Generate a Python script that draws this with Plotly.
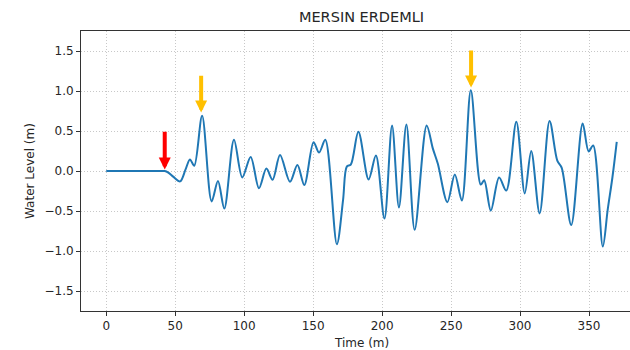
import plotly.graph_objects as go

# Time (minutes) and water level (m)
time_min = [0, 20, 40, 42.4, 45, 48.5, 53.6, 57.5, 60.7, 63.8, 69.5, 76.4, 81, 85.6,
            92.6, 98.6, 104.7, 110.7, 116.1, 120.6, 126, 133.2, 138.6, 143.6, 150.3,
            154.3, 158.8, 167.2, 171.7, 174.4, 177.3, 182.8, 190.2, 195.5, 201.7,
            207.2, 212.2, 217.6, 223.6, 232.3, 236.8, 240.4, 247.3, 252.7, 257.8,
            264.3, 271.5, 274, 278.8, 284.8, 290, 297.3, 303.4, 308.1, 314.2, 321.4,
            327, 330.2, 337.1, 345.4, 349.7, 353, 360, 363.5, 367, 370.1]
water_level = [0, 0, 0, 0, -0.02, -0.07, -0.13, 0.02, 0.145, 0.065, 0.69, -0.38, -0.125,
               -0.47, 0.39, -0.08, 0.175, -0.215, 0.03, -0.11, 0.2, -0.135, 0.075, -0.175,
               0.36, 0.23, 0.39, -0.915, -0.36, 0.055, 0.08, 0.49, -0.105, 0.195, -0.595,
               0.57, -0.455, 0.58, -0.735, 0.57, 0.28, 0.09, -0.39, -0.045, -0.37,
               1.01, -0.17, -0.115, -0.495, -0.08, -0.245, 0.615, -0.28, 0.25, -0.53, 0.625,
               0.13, 0.04, -0.675, 0.595, 0.245, 0.32, -0.945, -0.49, -0.075, 0.365]

# Arrow markers: (time, tail level, tip level, colour)
arrows = [
    (42.4, 0.51, 0.02, "#ff0000"),
    (68.8, 1.21, 0.73, "#ffc000"),
    (264.5, 1.525, 1.045, "#ffc000"),
]

x_ticks = [0, 50, 100, 150, 200, 250, 300, 350]
y_ticks = [-1.5, -1.0, -0.5, 0.0, 0.5, 1.0, 1.5]
y_tick_text = ["\u22121.5", "\u22121.0", "\u22120.5", "0.0", "0.5", "1.0", "1.5"]

FONT = "DejaVu Sans"
TXT = "#262626"

fig = go.Figure()
fig.add_trace(go.Scatter(
    x=time_min, y=water_level, mode="lines",
    line=dict(color="#1f77b4", width=2, shape="spline", smoothing=0.9),
    hoverinfo="skip", showlegend=False,
))

for t, tail, tip, col in arrows:
    fig.add_annotation(
        x=t, y=tip, ax=t, ay=tail, xref="x", yref="y", axref="x", ayref="y",
        showarrow=True, arrowhead=2, arrowsize=0.6, arrowwidth=4, arrowcolor=col,
        text="",
    )

W, H = 630, 350
left, right, top, bottom = 81, 0, 31, 39
plot_w = W - left - right
plot_h = H - top - bottom
# matplotlib axes extended to ~642px (cropped); centre ~361.5
center_paper = (361.5 - left) / plot_w

fig.add_annotation(
    text="Time (m)", x=center_paper, y=(H - bottom - 343) / plot_h,
    xref="paper", yref="paper", showarrow=False,
    xanchor="center", yanchor="middle",
    font=dict(family=FONT, size=12, color=TXT),
)
fig.add_annotation(
    text="Water Level (m)", x=(30 - left) / plot_w, y=0.5,
    xref="paper", yref="paper", showarrow=False, textangle=-90,
    xanchor="center", yanchor="middle",
    font=dict(family=FONT, size=12, color=TXT),
)

fig.update_layout(
    width=W, height=H,
    margin=dict(l=left, r=right, t=top, b=bottom, pad=0, autoexpand=False),
    paper_bgcolor="white", plot_bgcolor="white",
    title=dict(text="MERSIN ERDEMLI", x=361.5 / W, xref="container", xanchor="center",
               y=1 - 17 / H, yref="container", yanchor="middle",
               font=dict(family=FONT, size=14.5, color=TXT)),
    font=dict(family=FONT, size=12, color=TXT),
)

fig.update_xaxes(
    range=[-18.3, (W - 106) / 1.38],
    tickvals=x_ticks, ticks="outside", ticklen=4, tickwidth=1, tickcolor="#333333",
    showline=True, linecolor="#333333", linewidth=1, mirror=True,
    showgrid=True, gridcolor="#c8c8c8", griddash="1px,2px", gridwidth=1,
    zeroline=False, tickfont=dict(family=FONT, size=12, color=TXT),
    automargin=False,
)
fig.update_yaxes(
    range=[-1.75, 1.75], tickvals=y_ticks, ticktext=y_tick_text,
    ticks="outside", ticklen=4, tickwidth=1, tickcolor="#333333",
    showline=True, linecolor="#333333", linewidth=1, mirror=False,
    showgrid=True, gridcolor="#c8c8c8", griddash="1px,2px", gridwidth=1,
    zeroline=False, tickfont=dict(family=FONT, size=12, color=TXT),
    automargin=False,
)

fig.write_html("out.html", config={"displayModeBar": False},
               post_script="document.body.style.margin='0px';document.body.style.overflow='hidden';")
